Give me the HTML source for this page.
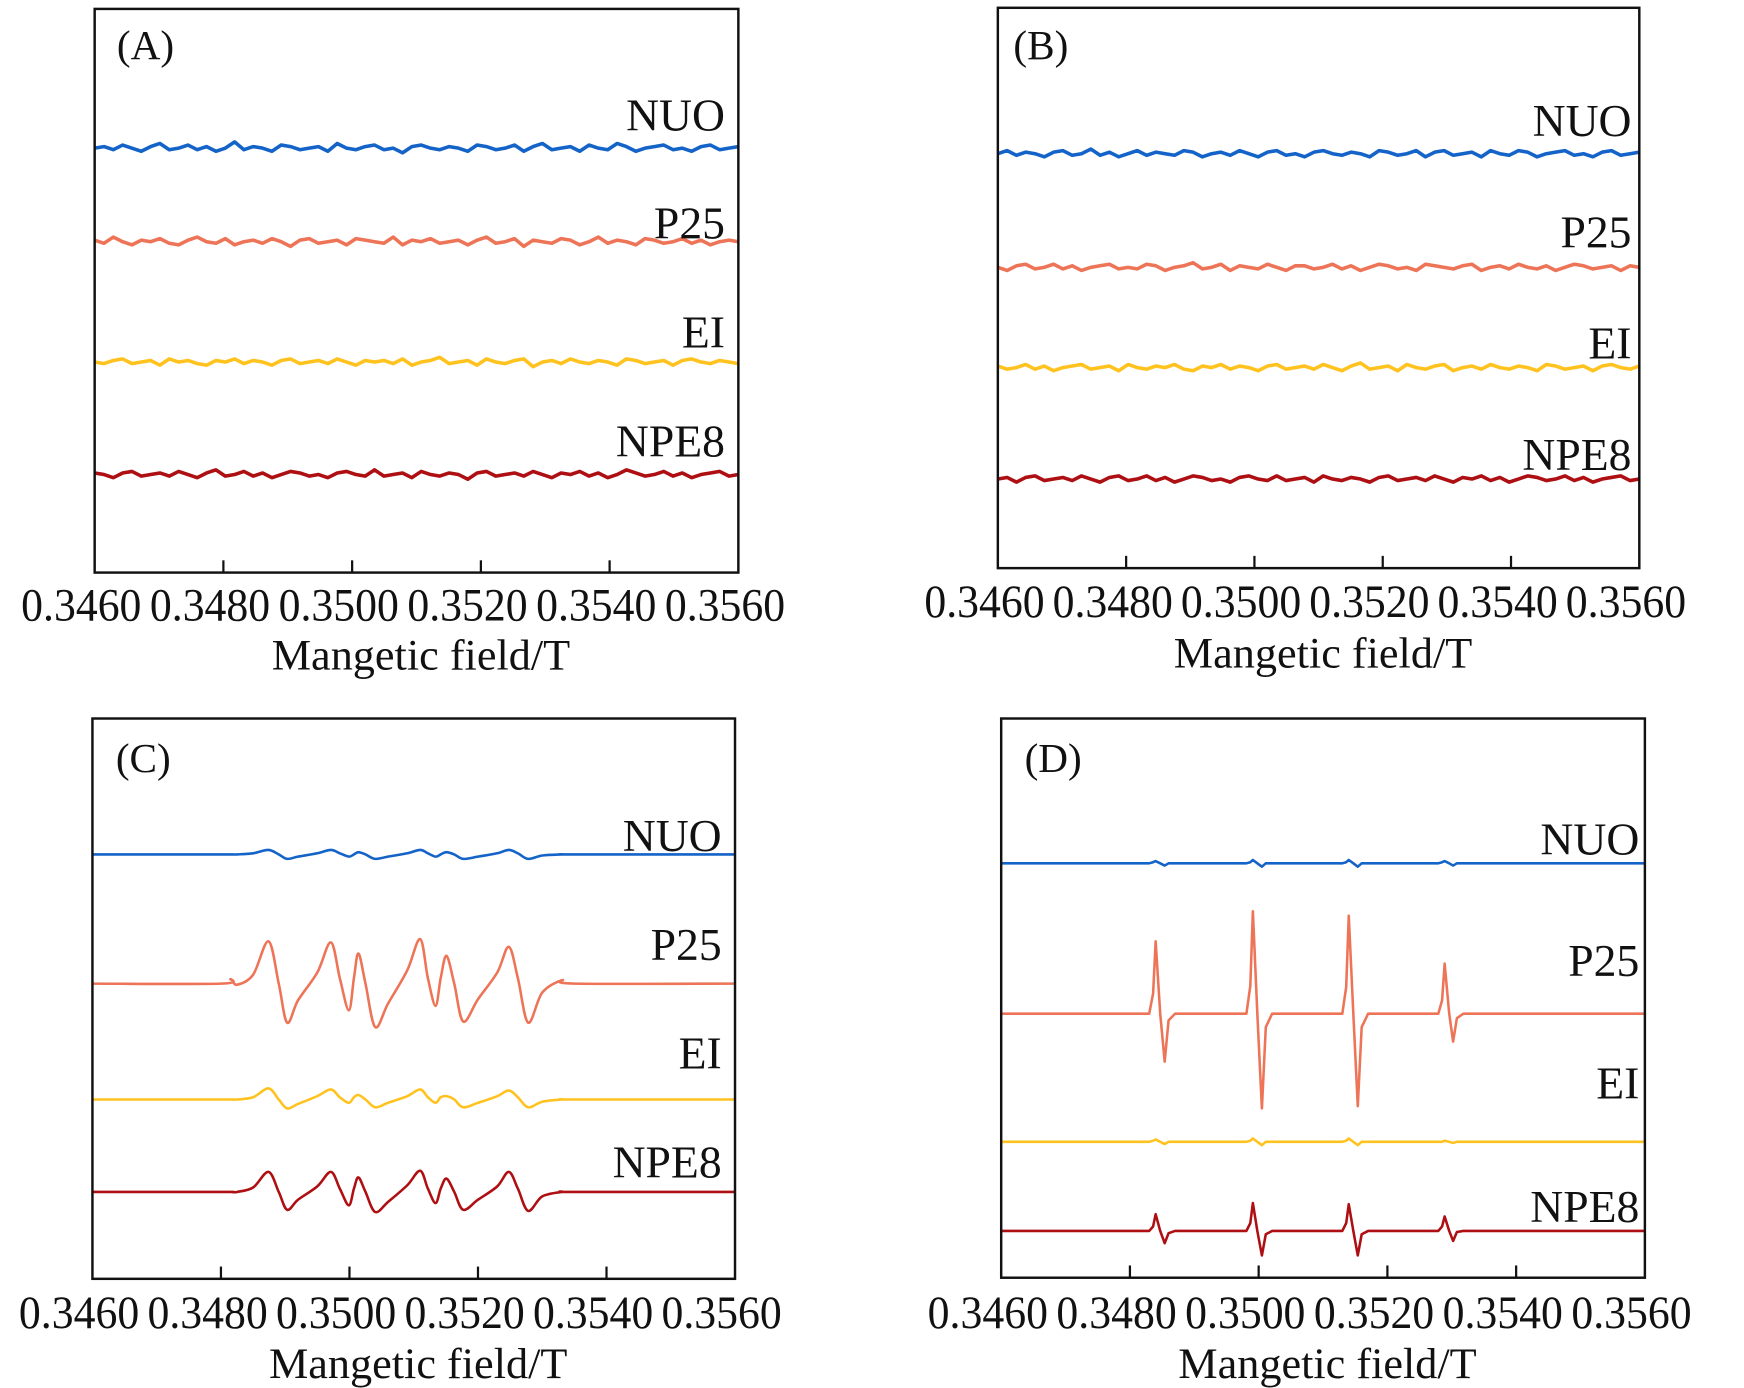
<!DOCTYPE html>
<html><head><meta charset="utf-8"><style>
html,body{margin:0;padding:0;background:#fff;}
svg{display:block;}
text{font-family:"Liberation Serif","DejaVu Serif",serif;fill:#111;}
</style></head><body>
<svg id="fig" width="1744" height="1388" viewBox="0 0 1566 1246" preserveAspectRatio="none" xmlns="http://www.w3.org/2000/svg"></svg>
<script>
// ---- data ----
const xTicks = [0.3460, 0.3480, 0.3500, 0.3520, 0.3540, 0.3560];
const xTickLabels = ["0.3460","0.3480","0.3500","0.3520","0.3540","0.3560"];
const seriesNames = ["NUO","P25","EI","NPE8"];
const seriesColors = ["#1463c8","#ee7458","#ffc21f","#ad0f12"];

// noise traces (panels A,B), arbitrary units, evenly spaced across field range
const noiseA_NUO = [0,1,-1,2,0,-2,1,3,-1,0,2,-1,1,-2,0,4,-1,1,0,-2,2,1,-1,0,1,-2,3,0,-1,1,2,-1,0,-3,1,2,0,-1,1,0,-2,2,1,-1,0,2,-2,1,3,-1,0,1,-2,2,0,-1,3,1,-2,0,1,2,-1,0,-2,1,2,-1,0,1];
const noiseA_P25 = [1,-1,3,0,-2,1,0,2,-1,-2,1,3,0,-1,2,-2,0,1,-1,2,0,-3,1,2,-1,0,1,-2,2,1,0,-1,3,-2,1,0,2,-1,0,1,-2,1,3,-1,0,2,-3,1,0,-1,2,1,-2,0,3,-1,1,0,-2,2,1,-1,0,2,-1,1,-2,0,1,0];
const noiseA_EI = [0,-1,1,2,-1,0,1,-2,2,0,1,-1,-2,1,0,2,-1,1,0,-2,1,2,-1,0,1,-1,2,0,-2,1,0,1,-1,2,-2,0,1,3,-1,0,1,-2,2,0,-1,1,2,-3,0,1,-1,2,0,-1,1,0,-2,2,1,-1,0,1,-2,1,2,0,-1,1,0,-1];
const noiseA_NPE8 = [1,0,-2,1,2,-1,0,1,-1,2,0,-2,1,3,-1,0,2,-1,1,-2,0,2,1,-1,0,-2,1,2,0,-1,3,-1,0,1,-2,2,0,-1,1,0,-3,1,2,-1,0,1,-1,2,0,-2,1,0,2,-1,1,-2,0,3,1,-1,0,2,-1,1,-2,0,1,2,-1,0];
const noiseB_NUO = [0,2,-1,1,0,-2,1,2,-1,0,3,-1,1,-2,0,2,-1,1,0,-1,2,1,-2,0,1,-1,2,0,-2,1,2,-1,0,-2,1,2,0,-1,1,0,-2,2,1,-1,0,2,-2,1,2,-1,0,1,-2,2,0,-1,2,1,-2,0,1,2,-1,0,-2,1,2,-1,0,1];
const noiseB_P25 = [0,-2,1,2,-1,0,2,-1,1,-2,0,1,2,-1,0,-1,2,1,-2,0,1,3,-1,0,2,-2,1,0,-1,2,0,-2,1,1,-1,0,2,-1,1,-2,0,2,1,-1,0,-2,2,1,0,-1,1,2,-2,0,1,-1,2,0,-1,1,-2,0,2,1,-1,0,1,-2,1,0];
const noiseB_EI = [1,-1,0,2,-1,1,-2,0,1,2,-1,0,1,-2,2,0,-1,1,0,2,-1,-2,1,0,2,-1,1,0,-2,1,2,-1,0,1,-1,2,0,-2,1,3,-1,0,1,-2,2,0,-1,1,2,-2,0,1,-1,2,0,-1,1,0,-2,2,1,-1,0,1,-2,1,2,0,-1,1];
const noiseB_NPE8 = [0,1,-2,1,2,-1,0,1,-1,2,0,-2,1,2,-1,0,2,-1,1,-2,0,2,1,-1,0,-2,1,2,0,-1,2,-1,0,1,-2,2,0,-1,1,0,-2,1,2,-1,0,1,-1,2,0,-2,1,0,2,-1,1,-2,0,2,1,-1,0,2,-1,1,-2,0,1,2,-1,0];

// panel C spectra
const fieldC = [0.3460,0.3480,0.34815,0.34825,0.3485,0.34874,0.34890,0.34903,0.3492,0.3495,0.34971,0.34985,0.34999,0.35007,0.35014,0.35025,0.35040,0.3506,0.3509,0.35110,0.35122,0.35134,0.35142,0.35151,0.35163,0.35177,0.3520,0.3523,0.35248,0.35262,0.35278,0.3530,0.35331,0.3535,0.3560];
const cNUO  = [0,0,0,0,1,4,0,-4,-2,1,4,1,-2,0,2,0,-4,-2,1,4,1,-2,0,2,0,-4,-2,1,4,1,-4,-1,0,0,0];
const cP25  = [0,0,4,-1,8,38,0,-35,-15,10,37,5,-24,5,27,0,-39,-18,12,40,5,-20,5,25,0,-34,-14,10,33,5,-35,-8,3,0,0];
const cEI   = [0,0,0,0,2,10,0,-8,-4,3,9,2,-3,2,4,0,-7,-3,3,9,2,-3,2,3,0,-7,-3,3,8,2,-7,-2,0,0,0];
const cNPE8 = [0,0,0,0,4,18,0,-16,-7,5,18,3,-12,3,13,0,-18,-9,6,19,3,-10,3,12,0,-16,-7,5,18,3,-17,-4,0,0,0];

// panel D spectra
const fieldD = [0.3460,0.34830,0.34836,0.34840,0.34847,0.34854,0.34860,0.34870,0.34981,0.34987,0.34991,0.34998,0.35005,0.35011,0.35021,0.35130,0.35136,0.35140,0.35147,0.35154,0.35160,0.35170,0.35279,0.35285,0.35289,0.35296,0.35302,0.35308,0.35318,0.3560];
const dNUO  = [0,0,1,2,0,-2,0,0,0,1,3,0,-3,0,0,0,1,3,0,-3,0,0,0,1,2,0,-2,0,0,0];
const dP25  = [0,0,18,65,0,-43,-6,0,0,25,92,0,-85,-12,0,0,24,88,0,-83,-12,0,0,12,45,0,-25,-4,0,0];
const dEI   = [0,0,1,2,0,-2,0,0,0,1,3,0,-3,0,0,0,1,3,0,-3,0,0,0,0,1,0,-1,0,0,0];
const dNPE8 = [0,0,4,15,0,-11,-2,0,0,7,25,0,-22,-3,0,0,7,24,0,-22,-3,0,0,4,13,0,-9,-1,0,0];

// ---- layout ----
const NS = "http://www.w3.org/2000/svg";
const svg = document.getElementById('fig');
function mk(tag, attrs, parent){ const e=document.createElementNS(NS,tag); for(const k in attrs) e.setAttribute(k,attrs[k]); (parent||svg).appendChild(e); return e; }

const panels = [
 {id:"a", letter:"(A)", x0:85, x1:663, y0:8, y1:514, tickY:543, titleY:588, letterPos:[105,40],
  base:[133,217,325,426], lab:[103,200,298,396], labX:651, kind:"noise",
  data:[noiseA_NUO,noiseA_P25,noiseA_EI,noiseA_NPE8]},
 {id:"b", letter:"(B)", x0:896, x1:1472, y0:7, y1:510, tickY:540, titleY:586, letterPos:[910,40],
  base:[138,240,330,430], lab:[108,208,308,408], labX:1465, kind:"noise",
  data:[noiseB_NUO,noiseB_P25,noiseB_EI,noiseB_NPE8]},
 {id:"c", letter:"(C)", x0:83, x1:660, y0:645, y1:1148, tickY:1178, titleY:1224, letterPos:[104,680],
  base:[767,883,987,1070], lab:[750,848,945,1043], labX:648, kind:"spec", field:fieldC,
  data:[cNUO,cP25,cEI,cNPE8]},
 {id:"d", letter:"(D)", x0:899, x1:1477, y0:645, y1:1147, tickY:1178, titleY:1224, letterPos:[920,680],
  base:[775,910,1025,1105], lab:[753,862,972,1083], labX:1472, kind:"spec", field:fieldD,
  data:[dNUO,dP25,dEI,dNPE8]}
];

panels.forEach(p=>{
  const g = mk('g',{});
  
  
  const xs = v => p.x0 + (v - xTicks[0])/(xTicks[xTicks.length-1]-xTicks[0])*(p.x1-p.x0);
  p.data.forEach((vals,si)=>{
    let pts=[];
    if(p.kind==="noise"){
      const n=vals.length;
      for(let i=0;i<n;i++){
        const f = xTicks[0] + i*(xTicks[5]-xTicks[0])/(n-1);
        pts.push([xs(f), p.base[si]-vals[i]*1.4]);
      }
    } else {
      vals.forEach((v,i)=>pts.push([xs(p.field[i]), p.base[si]-v]));
    }
    let d='M'+pts[0][0].toFixed(1)+' '+pts[0][1].toFixed(1);
    if(p.kind==="spec" && p.id==="c"){
      for(let i=0;i<pts.length-1;i++){
        const p0=pts[Math.max(0,i-1)],p1=pts[i],p2=pts[i+1],p3=pts[Math.min(pts.length-1,i+2)];
        const c1=[p1[0]+(p2[0]-p0[0])/6,p1[1]+(p2[1]-p0[1])/6];
        const c2=[p2[0]-(p3[0]-p1[0])/6,p2[1]-(p3[1]-p1[1])/6];
        d+=' C'+c1[0].toFixed(1)+' '+c1[1].toFixed(1)+' '+c2[0].toFixed(1)+' '+c2[1].toFixed(1)+' '+p2[0].toFixed(1)+' '+p2[1].toFixed(1);
      }
    } else {
      for(let i=1;i<pts.length;i++) d+=' L'+pts[i][0].toFixed(1)+' '+pts[i][1].toFixed(1);
    }
    const path = mk('path',{d:d,fill:'none',stroke:seriesColors[si],'stroke-width':p.kind==="noise"?3.2:2.3,'stroke-linejoin':'round'},g);
    
    
    const t = mk('text',{x:p.labX,y:p.lab[si]+14,'font-size':41,'text-anchor':'end'},g);
    t.textContent=seriesNames[si];
    
    
  });
  const fr = mk('rect',{x:p.x0,y:p.y0,width:p.x1-p.x0,height:p.y1-p.y0,fill:'none',stroke:'#111','stroke-width':2.2},g);
  
  
  xTicks.forEach((v,i)=>{
    const x=xs(v);
    if(i>0 && i<xTicks.length-1){
      const tk=mk('line',{x1:x,x2:x,y1:p.y1,y2:p.y1-11,stroke:'#111','stroke-width':2},g);
      
      
    }
    const tl=mk('text',{x:x-12,y:p.tickY+14,'font-size':42,'text-anchor':'middle',textLength:108,lengthAdjust:'spacingAndGlyphs'},g);
    tl.textContent=xTickLabels[i];
    
    
  });
  const ti=mk('text',{x:(p.x0+p.x1)/2+4,y:p.titleY+13,'font-size':39,'text-anchor':'middle',textLength:268,lengthAdjust:'spacingAndGlyphs'},g);
  ti.textContent='Mangetic field/T';
  
  
  const lt=mk('text',{x:p.letterPos[0],y:p.letterPos[1]+13,'font-size':37},g);
  lt.textContent=p.letter;
  
  
});
</script>
</body></html>
